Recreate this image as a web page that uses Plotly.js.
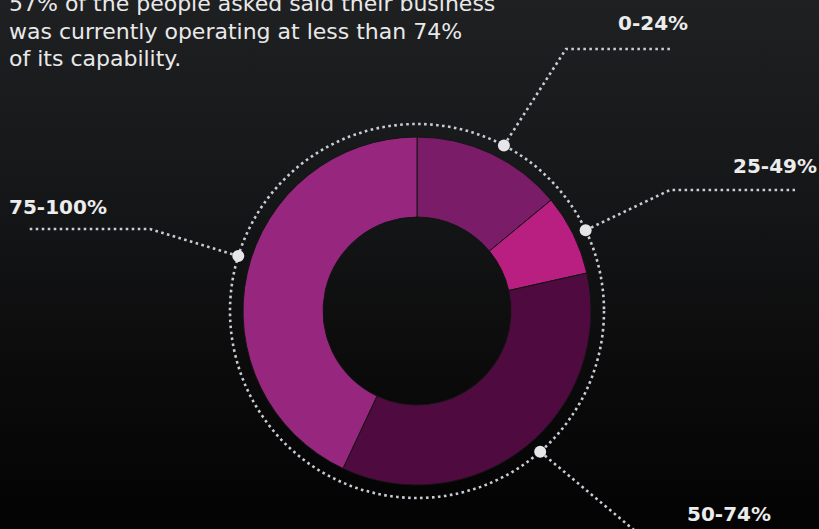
<!DOCTYPE html>
<html>
<head>
<meta charset="utf-8">
<script src="https://cdn.plot.ly/plotly-3.0.1.min.js"></script>
<style>
  html, body { margin:0; padding:0; width:819px; height:529px; overflow:hidden;
    background: linear-gradient(180deg, #1f2022 0%, #161718 35%, #0b0b0c 70%, #030303 100%); }
  #chart { width:819px; height:529px; }
</style>
</head>
<body>
<div id="chart"></div>
<script>
// ---- data ----
const categories = ['0-24%', '25-49%', '50-74%', '75-100%'];
const shares = [14, 7.5, 35.5, 43];
const sliceColors = ['#7a1c68', '#b81f80', '#4f0a40', '#97267f'];
const titleLines = [
  '57% of the people asked said their business',
  'was currently operating at less than 74%',
  'of its capability.'
];

// ---- layout helpers (pixels -> paper) ----
const W = 819, H = 529;
const px = x => x / W;
const py = y => 1 - y / H;
const CX = 417, CY = 311, R = 174, RING = 187;

// leader-line geometry per category: dot angle offset (deg), elbow, end, label position
const leaders = [
  { shift: 2.5,  elbow: [566, 49],  end: [672, 49],  label: [653, 23],  anchor: 'center' },
  { shift: 0.5,  elbow: [670, 190], end: [795, 190], label: [819, 166], anchor: 'right' },
  { shift: -2.5, elbow: null,       end: [640, 535], label: [729, 514], anchor: 'center' },
  { shift: 4.5,  elbow: [150, 229], end: [28, 229],  label: [7, 207],   anchor: 'left' }
];

const total = shares.reduce((a, b) => a + b, 0);
let cum = 0;
const dotPts = shares.map((v, i) => {
  const mid = (cum + v / 2) / total * 2 * Math.PI + leaders[i].shift * Math.PI / 180;
  cum += v;
  return [CX + RING * Math.sin(mid), CY - RING * Math.cos(mid)];
});

const dotColor = '#c9ccd5';
const FONT = '"DejaVu Sans", sans-serif';
const shapes = [];
// outer dotted ring
shapes.push({
  type: 'circle', xref: 'paper', yref: 'paper', layer: 'below',
  x0: px(CX - RING), x1: px(CX + RING), y0: py(CY + RING), y1: py(CY - RING),
  line: { color: dotColor, width: 2.6, dash: '2.6px,3.4px' }
});
const annotations = [];
categories.forEach((c, i) => {
  const d = dotPts[i], L = leaders[i];
  let path = `M${px(d[0])},${py(d[1])}`;
  if (L.elbow) path += ` L${px(L.elbow[0])},${py(L.elbow[1])}`;
  path += ` L${px(L.end[0])},${py(L.end[1])}`;
  shapes.push({ type: 'path', xref: 'paper', yref: 'paper', path: path,
    line: { color: dotColor, width: 2.6, dash: '2.6px,3.4px' } });
  const r = 6;
  shapes.push({ type: 'circle', xref: 'paper', yref: 'paper',
    x0: px(d[0] - r), x1: px(d[0] + r), y0: py(d[1] + r), y1: py(d[1] - r),
    fillcolor: '#e6e6e8', line: { width: 0 } });
  annotations.push({ xref: 'paper', yref: 'paper', x: px(L.label[0]), y: py(L.label[1]),
    xanchor: L.anchor, yanchor: 'middle', showarrow: false, text: '<b>' + c + '</b>',
    font: { family: FONT, size: 20, color: '#ececec' } });
});
titleLines.forEach((t, i) => {
  annotations.push({ xref: 'paper', yref: 'paper', x: px(7), y: py(3 + i * 28),
    xanchor: 'left', yanchor: 'middle', showarrow: false, text: t,
    font: { family: FONT, size: 22, color: '#e9e9e9' } });
});

const trace = {
  type: 'pie', labels: categories, values: shares, sort: false,
  direction: 'clockwise', rotation: 0, hole: 0.54,
  marker: { colors: sliceColors, line: { color: '#141414', width: 1 } },
  textinfo: 'none', hoverinfo: 'none', showlegend: false,
  domain: { x: [px(CX - R), px(CX + R)], y: [py(CY + R), py(CY - R)] }
};

Plotly.newPlot('chart', [trace], {
  width: W, height: H, margin: { l: 0, r: 0, t: 0, b: 0 },
  paper_bgcolor: 'rgba(0,0,0,0)', plot_bgcolor: 'rgba(0,0,0,0)',
  showlegend: false, shapes: shapes, annotations: annotations
}, { staticPlot: true });
</script>
</body>
</html>
